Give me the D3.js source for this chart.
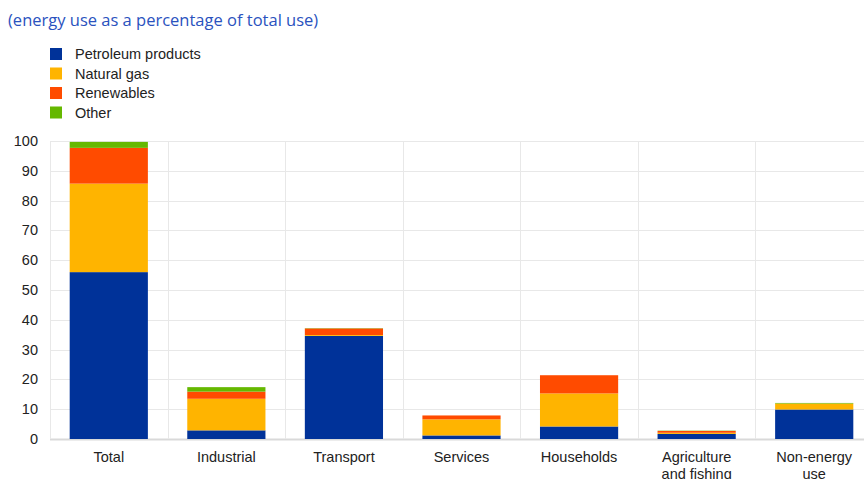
<!DOCTYPE html>
<html>
<head>
<meta charset="utf-8">
<script src="https://cdn.jsdelivr.net/npm/d3@7"></script>
<style>
body { margin: 0; background: #fff; }
text { font-family: "Liberation Sans", Arial, sans-serif; }
</style>
</head>
<body>
<div id="chart"></div>
<script>
var w = 864;
var h = 479;

var categories = ["Total", "Industrial", "Transport", "Services", "Households", "Agriculture\nand fishing", "Non-energy\nuse"];
var seriesNames = ["Petroleum products", "Natural gas", "Renewables", "Other"];
var petroleum = [56.0, 2.9, 34.6, 1.2, 4.2, 1.7, 9.9];
var naturalGas = [29.7, 10.6, 0.3, 5.4, 11.1, 0.4, 2.0];
var renewables = [12.0, 2.4, 2.2, 1.3, 6.1, 0.6, 0.0];
var other = [2.0, 1.5, 0.1, 0.0, 0.0, 0.1, 0.2];
var yTicks = [0, 10, 20, 30, 40, 50, 60, 70, 80, 90, 100];
var colors = ["#003299", "#ffb400", "#ff4b00", "#65b800"];

var margin = {left: 50, right: -9, top: 141, bottom: 40};

var table = categories.map(function(c, i) {
	return {cat: c, "Petroleum products": petroleum[i], "Natural gas": naturalGas[i], "Renewables": renewables[i], "Other": other[i]};
});

var stack = d3.stack().keys(seriesNames);
var layers = stack(table);

var x = d3.scaleBand()
	.domain(categories)
	.range([margin.left, w - margin.right])
	.paddingInner(0.335)
	.paddingOuter(0.1675);

var y = d3.scaleLinear()
	.domain([0, 100])
	.range([h - margin.bottom, margin.top]);

var svg = d3.select("#chart")
	.append("svg")
	.attr("width", w)
	.attr("height", h);

// title
svg.append("text")
	.attr("x", 8)
	.attr("y", 26)
	.attr("fill", "#2a52be")
	.style("font-family", "'Open Sans', sans-serif")
	.style("font-size", "16.5px")
	.text("(energy use as a percentage of total use)");

// legend
var legend = svg.selectAll("g.legend")
	.data(seriesNames)
	.enter()
	.append("g")
	.attr("class", "legend")
	.attr("transform", function(d, i) { return "translate(50," + (48 + i * 19.5) + ")"; });

legend.append("rect")
	.attr("width", 12)
	.attr("height", 12)
	.attr("fill", function(d, i) { return colors[i]; });

legend.append("text")
	.attr("x", 25)
	.attr("y", 11)
	.attr("fill", "#222")
	.style("font-size", "14.5px")
	.text(function(d) { return d; });

// horizontal grid
svg.selectAll("line.hgrid")
	.data(yTicks)
	.enter()
	.append("line")
	.attr("class", "hgrid")
	.attr("x1", margin.left)
	.attr("x2", w)
	.attr("y1", function(d) { return Math.round(y(d)) + 0.5; })
	.attr("y2", function(d) { return Math.round(y(d)) + 0.5; })
	.attr("stroke", function(d) { return d === 0 ? "#d9d9d9" : "#e8e8e8"; })
	.attr("stroke-width", function(d) { return d === 0 ? 2 : 1; });

// vertical grid at band edges
var step = x.step();
var edges = d3.range(categories.length).map(function(i) { return margin.left + i * step; });
svg.selectAll("line.vgrid")
	.data(edges)
	.enter()
	.append("line")
	.attr("class", "vgrid")
	.attr("x1", function(d) { return Math.round(d) + 0.5; })
	.attr("x2", function(d) { return Math.round(d) + 0.5; })
	.attr("y1", y(100))
	.attr("y2", y(0))
	.attr("stroke", "#e8e8e8");

// y labels
svg.selectAll("text.ytick")
	.data(yTicks)
	.enter()
	.append("text")
	.attr("class", "ytick")
	.attr("x", 38)
	.attr("y", function(d) { return y(d) + 5; })
	.attr("text-anchor", "end")
	.attr("fill", "#222")
	.style("font-size", "14.5px")
	.text(function(d) { return d; });

// bars
var groups = svg.selectAll("g.layer")
	.data(layers)
	.enter()
	.append("g")
	.attr("class", "layer")
	.attr("fill", function(d, i) { return colors[i]; });

groups.selectAll("rect")
	.data(function(d) { return d; })
	.enter()
	.append("rect")
	.attr("x", function(d) { return x(d.data.cat); })
	.attr("width", x.bandwidth())
	.attr("y", function(d) { return y(d[1]); })
	.attr("height", function(d) { return y(d[0]) - y(d[1]); });

// x labels
var xl = svg.selectAll("text.xtick")
	.data(categories)
	.enter()
	.append("text")
	.attr("class", "xtick")
	.attr("text-anchor", "middle")
	.attr("fill", "#222")
	.style("font-size", "14.5px")
	.attr("transform", function(d) { return "translate(" + (x(d) + x.bandwidth() / 2) + "," + (h - margin.bottom + 23) + ")"; });

xl.selectAll("tspan")
	.data(function(d) { return d.split("\n"); })
	.enter()
	.append("tspan")
	.attr("x", 0)
	.attr("dy", function(d, i) { return i === 0 ? 0 : 17; })
	.text(function(d) { return d; });
</script>
</body>
</html>
